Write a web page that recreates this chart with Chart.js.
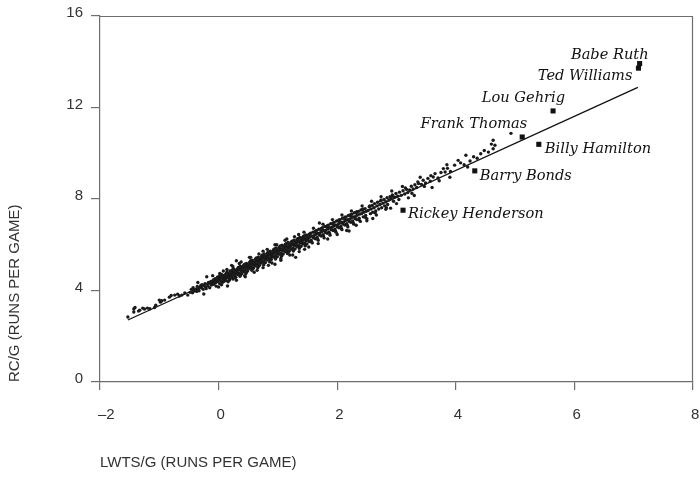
<!DOCTYPE html>
<html><head><meta charset="utf-8">
<script src="https://cdn.jsdelivr.net/npm/chart.js@4/dist/chart.umd.min.js"></script>
<style>html,body{margin:0;padding:0;background:#fff}canvas{display:block}</style>
</head><body>
<canvas id="c" width="700" height="483"></canvas>
<script>
const xTicks = [-2, 0, 2, 4, 6, 8];
const yTicks = [0, 4, 8, 12, 16];
const xTitle = 'LWTS/G (RUNS PER GAME)';
const yTitle = 'RC/G (RUNS PER GAME)';
const playerNames = ['Babe Ruth', 'Ted Williams', 'Lou Gehrig', 'Frank Thomas', 'Billy Hamilton', 'Barry Bonds', 'Rickey Henderson'];
const playerLWTS = [7.10, 7.08, 5.64, 5.12, 5.40, 4.32, 3.11];
const playerRC = [13.92, 13.72, 11.85, 10.71, 10.39, 9.23, 7.51];
const fitLWTS = [-1.53, 7.07];
const fitRC = [2.71, 12.88];
const otherSeasons = [
[-1.53,2.84],[-1.43,3.19],[-1.43,3.06],[-1.41,3.26],[-1.35,3.10],[-1.33,3.14],[-1.28,3.23],[-1.25,3.19],[-1.20,3.23],[-1.16,3.20],[-1.08,3.26],[-1.06,3.36],[-1.00,3.58],[-0.98,3.49],[-0.96,3.55],[-0.91,3.58],[-0.83,3.71],[-0.80,3.78],[-0.74,3.80],[-0.69,3.84],[-0.66,3.76],[-0.62,3.80],[-0.57,3.89],[-0.52,3.80],
[-0.48,3.92],[-0.46,4.05],[-0.44,3.90],[-0.43,4.12],[-0.41,3.98],[-0.40,4.02],
[-0.39,4.06],[-0.37,3.96],[-0.36,4.18],[-0.34,4.08],[-0.33,3.99],[-0.31,4.14],[-0.30,4.22],
[-0.29,4.12],[-0.28,4.25],[-0.26,4.05],[-0.25,4.21],[-0.23,4.30],[-0.22,4.15],[-0.21,4.08],
[-0.19,4.28],[-0.18,4.20],[-0.17,4.35],[-0.15,4.12],[-0.14,4.31],[-0.13,4.40],[-0.12,4.24],[-0.11,4.36],
[-0.10,4.33],[-0.09,4.46],[-0.08,4.27],[-0.07,4.40],[-0.06,4.52],[-0.05,4.35],[-0.04,4.19],[-0.03,4.44],[-0.02,4.58],[-0.01,4.38],
[0.00,4.46],[0.01,4.62],[0.02,4.30],[0.03,4.52],[0.04,4.41],[0.05,4.70],[0.06,4.55],[0.07,4.36],[0.07,4.60],[0.08,4.48],[0.09,4.66],[0.10,4.52],[0.05,4.25],[0.02,4.74],
[0.11,4.58],[0.12,4.70],[0.12,4.44],[0.13,4.63],[0.14,4.80],[0.15,4.55],[0.16,4.67],[0.16,4.38],[0.17,4.75],[0.18,4.60],[0.19,4.86],[0.19,4.52],[0.20,4.68],[0.14,4.92],
[0.21,4.72],[0.22,4.60],[0.22,4.84],[0.23,4.78],[0.24,4.50],[0.25,4.95],[0.25,4.70],[0.26,4.81],[0.27,4.64],[0.28,4.90],[0.28,4.75],[0.29,4.58],[0.30,4.86],[0.24,5.05],
[0.31,4.80],[0.32,4.94],[0.32,4.70],[0.33,4.88],[0.34,5.02],[0.35,4.76],[0.36,4.92],[0.36,4.62],[0.37,5.06],[0.38,4.85],[0.39,4.97],[0.39,4.73],[0.40,4.90],[0.35,5.18],
[0.41,4.96],[0.42,5.08],[0.42,4.82],[0.43,5.00],[0.44,5.15],[0.45,4.88],[0.46,5.04],[0.46,4.74],[0.47,5.18],[0.48,4.97],[0.49,5.10],[0.49,4.86],[0.50,5.02],[0.44,4.65],
[0.51,5.08],[0.52,5.22],[0.52,4.96],[0.53,5.13],[0.54,5.30],[0.55,5.02],[0.56,5.17],[0.56,4.88],[0.57,5.33],[0.58,5.10],[0.59,5.24],[0.59,4.98],[0.60,5.15],[0.54,5.45],
[0.61,5.20],[0.62,5.36],[0.62,5.08],[0.63,5.27],[0.64,5.42],[0.65,5.14],[0.66,5.30],[0.66,5.00],[0.67,5.46],[0.68,5.22],[0.69,5.38],[0.69,5.10],[0.70,5.28],[0.65,4.88],
[0.71,5.34],[0.72,5.48],[0.72,5.20],[0.73,5.40],[0.74,5.55],[0.75,5.27],[0.76,5.44],[0.76,5.12],[0.77,5.60],[0.78,5.35],[0.79,5.50],[0.79,5.22],[0.80,5.42],[0.75,5.72],
[0.81,5.46],[0.82,5.62],[0.82,5.33],[0.83,5.53],[0.84,5.68],[0.85,5.40],[0.86,5.57],[0.86,5.25],[0.87,5.72],[0.88,5.48],[0.89,5.63],[0.89,5.36],[0.90,5.55],[0.84,5.10],
[0.91,5.60],[0.92,5.75],[0.92,5.46],[0.93,5.66],[0.94,5.82],[0.95,5.52],[0.96,5.70],[0.96,5.38],[0.97,5.86],[0.98,5.61],[0.99,5.77],[0.99,5.48],[1.00,5.68],[0.95,6.00],
[1.01,5.72],[1.02,5.88],[1.02,5.58],[1.03,5.78],[1.04,5.95],[1.05,5.64],[1.06,5.82],[1.06,5.50],[1.07,5.98],[1.08,5.74],[1.09,5.90],[1.09,5.60],[1.10,5.80],[1.05,5.32],
[1.11,5.84],[1.12,5.99],[1.12,5.70],[1.13,5.88],[1.14,6.05],[1.15,5.75],[1.16,5.93],[1.16,5.62],[1.17,6.10],[1.18,5.85],[1.19,6.00],[1.19,5.72],[1.20,5.90],[1.15,6.25],
[1.21,5.95],[1.22,6.10],[1.22,5.80],[1.23,6.00],[1.24,6.16],[1.25,5.86],[1.26,6.04],[1.26,5.73],[1.27,6.20],[1.28,5.96],[1.29,6.12],[1.29,5.82],[1.30,6.02],[1.25,5.55],
[1.31,6.05],[1.32,6.22],[1.32,5.92],[1.33,6.11],[1.34,6.28],[1.35,5.97],[1.36,6.15],[1.36,5.84],[1.37,6.32],[1.38,6.07],[1.39,6.24],[1.39,5.93],[1.40,6.13],[1.35,6.45],
[1.41,6.17],[1.42,6.33],[1.42,6.03],[1.43,6.22],[1.44,6.38],[1.45,6.08],[1.46,6.26],[1.46,5.95],[1.47,6.43],[1.48,6.18],[1.49,6.35],[1.49,6.04],[1.50,6.24],[1.45,5.80],
[1.51,6.28],[1.52,6.44],[1.53,6.14],[1.54,6.34],[1.55,6.50],[1.56,6.20],[1.57,6.38],[1.58,6.08],[1.59,6.55],[1.60,6.30],
[1.61,6.40],[1.62,6.56],[1.63,6.26],[1.64,6.46],[1.65,6.62],[1.66,6.32],[1.67,6.50],[1.68,6.20],[1.69,6.68],[1.70,6.42],
[1.71,6.52],[1.72,6.68],[1.73,6.38],[1.74,6.58],[1.75,6.74],[1.76,6.44],[1.77,6.62],[1.78,6.30],[1.79,6.80],[1.80,6.54],
[1.81,6.64],[1.82,6.80],[1.83,6.50],[1.84,6.70],[1.85,6.86],[1.86,6.56],[1.87,6.74],[1.88,6.42],[1.89,6.92],[1.90,6.66],
[1.91,6.76],[1.92,6.92],[1.93,6.62],[1.94,6.82],[1.95,6.98],[1.96,6.68],[1.97,6.86],[1.98,6.55],[1.99,7.04],[2.00,6.78],
[2.01,6.88],[2.02,7.04],[2.03,6.74],[2.04,6.94],[2.05,7.10],[2.06,6.80],[2.07,6.98],[2.08,6.66],[2.09,7.16],[2.10,6.90],
[2.11,7.00],[2.12,7.16],[2.13,6.86],[2.14,7.06],[2.15,7.22],[2.16,6.92],[2.17,7.10],[2.18,6.78],[2.19,7.28],[2.20,7.02],
[2.21,7.12],[2.22,7.28],[2.23,6.98],[2.24,7.18],[2.25,7.34],[2.26,7.04],[2.27,7.22],[2.28,6.90],[2.29,7.40],[2.30,7.14],
[2.31,7.24],[2.32,7.40],[2.33,7.10],[2.34,7.30],[2.36,7.46],[2.37,7.16],[2.38,7.34],[2.39,7.02],[2.40,7.52],
[2.41,7.36],[2.43,7.52],[2.44,7.22],[2.45,7.42],[2.47,7.58],[2.48,7.28],[2.49,7.46],[2.50,7.14],
[2.52,7.50],[2.54,7.66],[2.56,7.36],[2.57,7.56],[2.59,7.72],[2.60,7.42],
[2.62,7.62],[2.63,7.80],[2.65,7.48],[2.67,7.70],[2.68,7.86],[2.70,7.56],
[2.72,7.76],[2.73,7.92],[2.75,7.62],[2.77,7.82],[2.79,7.98],[2.80,7.70],
[2.82,7.88],[2.84,8.06],[2.85,7.76],[2.87,7.96],[2.89,8.10],
[2.91,8.02],[2.93,8.18],[2.95,7.90],[2.97,8.08],[2.99,8.24],
[3.02,8.12],[3.05,8.30],[3.08,8.16],[3.11,8.36],[3.14,8.22],[3.17,8.42],[3.19,8.28],
[3.22,8.40],[3.25,8.56],[3.28,8.44],[3.31,8.62],[3.34,8.50],[3.37,8.68],
[3.42,8.64],[3.45,8.82],[3.49,8.70],[3.53,8.90],[3.57,8.78],
[3.62,8.96],[3.65,9.11],[3.70,8.92],[3.75,9.16],[3.79,9.33],
[3.82,9.18],[3.86,9.34],[3.91,9.20],[3.98,9.48],
[4.04,9.69],[4.08,9.58],[4.14,9.50],[4.17,9.91],
[4.24,9.66],[4.30,9.85],[4.36,9.78],
[4.42,9.98],[4.48,10.12],[4.55,10.05],[4.60,10.40],
[4.63,10.57],[4.63,10.20],[4.66,10.35],[4.93,10.87],
[0.95,5.15],[1.30,5.45],[2.20,6.60],[1.70,6.95],[0.30,5.30],[-0.20,4.60],[2.60,7.15],[2.90,7.60],[3.30,8.15],[3.90,8.95],
[-0.35,4.35],[-0.25,3.85],[-0.10,4.65],[0.00,4.15],[0.08,4.85],[0.15,4.20],[0.22,5.10],[0.30,4.45],[0.38,5.25],[0.45,4.60],[0.52,5.45],[0.60,4.80],[0.68,5.60],[0.75,5.00],[0.82,5.80],[0.90,5.20],[0.98,6.00],[1.05,5.40],[1.12,6.20],[1.20,5.55],[1.28,6.35],[1.36,5.70],[1.44,6.55],[1.52,5.90],[1.60,6.72],[1.68,6.05],[1.76,6.90],[1.84,6.25],[1.92,7.10],[2.00,6.45],[2.08,7.30],[2.16,6.62],[2.24,7.48],[2.32,6.85],[2.42,7.70],[2.50,7.05],[2.58,7.90],[2.66,7.30],[2.74,8.10],[2.82,7.55],[2.92,8.35],[3.00,7.80],[3.10,8.55],[3.20,8.05],[3.40,8.95],[3.60,8.50],[3.85,9.50],[4.20,9.40],
[0.03,4.58],[0.09,4.40],[0.13,4.75],[0.18,4.45],[0.23,4.90],[0.27,4.55],[0.33,5.00],[0.37,4.68],[0.43,5.12],[0.47,4.80],[0.53,5.25],[0.57,4.95],[0.63,5.40],[0.67,5.05],[0.73,5.52],[0.77,5.20],[0.83,5.65],[0.87,5.32],[0.93,5.78],[0.97,5.45],[1.03,5.90],[1.07,5.55],[1.13,6.02],[1.17,5.66],[1.23,6.12],[1.27,5.78],[1.33,6.25],[1.37,5.90],[1.43,6.36],[1.47,6.00],[1.53,6.46],[1.57,6.12],[1.63,6.58],[1.67,6.25],[1.73,6.70],[1.77,6.38],[1.83,6.82],[1.87,6.50],[1.93,6.95],[1.97,6.60],[2.03,7.08],[2.07,6.72],[2.13,7.20],[2.17,6.85],[2.23,7.32],[2.27,6.96],[2.33,7.44],[2.37,7.08],[2.43,7.56],[2.47,7.20],[2.55,7.70],[2.64,7.40],[2.74,7.95],[2.83,7.62],[2.94,8.12],[3.04,7.98],[3.15,8.48],[3.26,8.25],[3.36,8.75],[3.47,8.55],[3.58,9.02],[3.72,8.80]
];
// label placement relative to each player's square (style only)
const labelStyle = [
  {dx: 9, dy: -5, align: 'right'},
  {dx: -6, dy: 12, align: 'right'},
  {dx: 12, dy: -9, align: 'right'},
  {dx: 5, dy: -9, align: 'right'},
  {dx: 6, dy: 9, align: 'left'},
  {dx: 5, dy: 9, align: 'left'},
  {dx: 5, dy: 8, align: 'left'}
];

const frame = {
  id: 'frame',
  afterDraw(chart) {
    const {ctx, chartArea: a} = chart;
    ctx.save();
    ctx.strokeStyle = '#6e6e6e';
    ctx.lineWidth = 1.2;
    ctx.beginPath();
    ctx.moveTo(a.left, a.top + 0.5);
    ctx.lineTo(a.right, a.top + 0.5);
    ctx.moveTo(a.right - 0.5, a.top);
    ctx.lineTo(a.right - 0.5, a.bottom);
    ctx.stroke();
    ctx.restore();
  },
  afterDatasetsDraw(chart) {
    const {ctx} = chart;
    const xs = chart.scales.x, ys = chart.scales.y;
    ctx.save();
    ctx.font = 'italic 14.6px "DejaVu Serif"';
    ctx.fillStyle = '#111';
    ctx.textBaseline = 'alphabetic';
    playerNames.forEach((n, i) => {
      const px = xs.getPixelForValue(playerLWTS[i]);
      const py = ys.getPixelForValue(playerRC[i]);
      const s = labelStyle[i];
      ctx.textAlign = s.align;
      ctx.fillText(n, px + s.dx, py + s.dy);
    });
    ctx.restore();
  }
};

const axisColor = '#6e6e6e';
const tickFont = {family: '"Liberation Sans", Arial, sans-serif', size: 15};
const titleFont = {family: '"Liberation Sans", Arial, sans-serif', size: 15};
new Chart(document.getElementById('c'), {
  type: 'scatter',
  data: {
    datasets: [
      {
        label: 'seasons',
        data: otherSeasons.map(p => ({x: p[0], y: p[1]})),
        pointRadius: 1.7,
        pointBorderWidth: 0,
        pointBackgroundColor: '#1a1a1a',
        order: 0
      },
      {
        label: 'players',
        data: playerLWTS.map((v, i) => ({x: v, y: playerRC[i]})),
        pointStyle: 'rect',
        pointRadius: 3.6,
        pointBorderWidth: 0,
        pointBackgroundColor: '#111',
        order: 0
      },
      {
        label: 'fit',
        type: 'line',
        data: fitLWTS.map((v, i) => ({x: v, y: fitRC[i]})),
        borderColor: '#111',
        borderWidth: 1.3,
        pointRadius: 0,
        fill: false,
        order: 1
      }
    ]
  },
  options: {
    responsive: false,
    animation: false,
    devicePixelRatio: 1,
    layout: {padding: {left: 2, right: 7, top: 16, bottom: 7}},
    plugins: {legend: {display: false}, tooltip: {enabled: false}},
    scales: {
      x: {
        type: 'linear', min: -2, max: 8,
        afterBuildTicks: s => { s.ticks = xTicks.map(v => ({value: v})); },
        afterFit: s => { s.height = 94; s.paddingRight = 0; s.paddingLeft = 0; },
        ticks: {
          color: '#333', font: tickFont, padding: 16, align: 'start', maxRotation: 0, labelOffset: -2,
          callback: v => v < 0 ? '\u2013' + Math.abs(v) : String(v)
        },
        grid: {drawOnChartArea: false, drawTicks: true, tickLength: 8, color: axisColor, lineWidth: 1.2},
        border: {display: true, color: axisColor, width: 1.2},
        title: {display: true, text: xTitle, align: 'start', color: '#333', font: titleFont}
      },
      y: {
        type: 'linear', min: 0, max: 16,
        afterBuildTicks: s => { s.ticks = yTicks.map(v => ({value: v})); },
        afterFit: s => { s.width = 98; s.paddingTop = 0; s.paddingBottom = 0; },
        ticks: {color: '#333', font: tickFont, padding: 8, labelOffset: -3},
        grid: {drawOnChartArea: false, drawTicks: true, tickLength: 9, color: axisColor, lineWidth: 1.2},
        border: {display: true, color: axisColor, width: 1.2},
        title: {display: true, text: yTitle, align: 'start', color: '#333', font: titleFont}
      }
    }
  },
  plugins: [frame]
});
</script>
</body></html>
